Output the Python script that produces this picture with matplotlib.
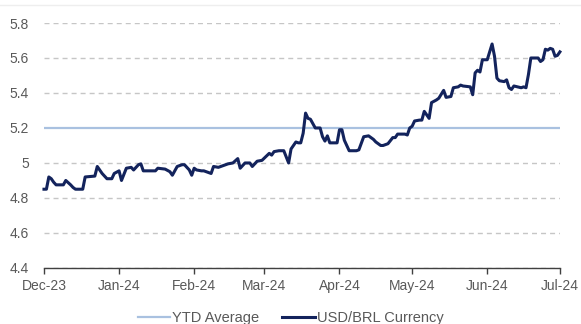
import matplotlib
matplotlib.use("Agg")
import matplotlib.pyplot as plt
import matplotlib.dates as mdates
import pandas as pd

plt.rcParams['font.family'] = ['Liberation Sans', 'DejaVu Sans']

# USD/BRL closing rate, Dec-23 to Jul-24
dates = [
    "2023-12-01", "2023-12-02", "2023-12-03", "2023-12-04", "2023-12-05", "2023-12-06",
    "2023-12-09", "2023-12-10", "2023-12-12", "2023-12-13", "2023-12-14", "2023-12-17",
    "2023-12-18", "2023-12-22", "2023-12-23", "2023-12-25", "2023-12-27", "2023-12-29",
    "2023-12-30",
    "2024-01-01", "2024-01-02", "2024-01-04", "2024-01-06", "2024-01-07", "2024-01-09",
    "2024-01-10", "2024-01-11", "2024-01-16", "2024-01-17", "2024-01-20", "2024-01-22",
    "2024-01-23", "2024-01-25", "2024-01-27", "2024-01-28", "2024-01-30", "2024-01-31",
    "2024-02-01", "2024-02-02", "2024-02-04", "2024-02-05", "2024-02-06", "2024-02-08",
    "2024-02-09", "2024-02-11", "2024-02-13", "2024-02-15", "2024-02-17", "2024-02-19",
    "2024-02-20", "2024-02-22", "2024-02-24", "2024-02-25", "2024-02-26", "2024-02-27",
    "2024-02-29",
    "2024-03-03", "2024-03-04", "2024-03-05", "2024-03-07", "2024-03-09", "2024-03-11",
    "2024-03-12", "2024-03-13", "2024-03-14", "2024-03-15", "2024-03-16", "2024-03-17",
    "2024-03-18", "2024-03-19", "2024-03-20", "2024-03-22", "2024-03-24", "2024-03-25",
    "2024-03-26", "2024-03-27", "2024-03-28", "2024-03-31",
    "2024-04-01", "2024-04-02", "2024-04-03", "2024-04-05", "2024-04-08", "2024-04-09",
    "2024-04-11", "2024-04-13", "2024-04-15", "2024-04-16", "2024-04-18", "2024-04-19",
    "2024-04-21", "2024-04-23", "2024-04-24", "2024-04-25", "2024-04-28", "2024-04-29",
    "2024-04-30",
    "2024-05-01", "2024-05-02", "2024-05-04", "2024-05-05", "2024-05-06", "2024-05-08",
    "2024-05-09", "2024-05-11", "2024-05-12", "2024-05-14", "2024-05-15", "2024-05-17",
    "2024-05-18", "2024-05-20", "2024-05-21", "2024-05-22", "2024-05-25", "2024-05-26",
    "2024-05-27", "2024-05-28", "2024-05-29", "2024-05-30",
    "2024-06-01", "2024-06-03", "2024-06-04", "2024-06-05", "2024-06-06", "2024-06-08",
    "2024-06-09", "2024-06-10", "2024-06-11", "2024-06-12", "2024-06-15", "2024-06-16",
    "2024-06-17", "2024-06-18", "2024-06-19", "2024-06-22", "2024-06-23", "2024-06-24",
    "2024-06-25", "2024-06-26", "2024-06-27", "2024-06-28", "2024-06-29", "2024-06-30",
    "2024-07-01",
]
usd_brl = [
    4.85, 4.85, 4.92, 4.91, 4.89, 4.875,
    4.875, 4.90, 4.875, 4.86, 4.85, 4.85,
    4.92, 4.925, 4.98, 4.94, 4.91, 4.91,
    4.94,
    4.955, 4.90, 4.97, 4.975, 4.96, 4.99,
    4.995, 4.955, 4.955, 4.97, 4.965, 4.95,
    4.93, 4.98, 4.99, 4.99, 4.96, 4.93,
    4.97, 4.96, 4.955, 4.955, 4.95, 4.94,
    4.98, 4.975, 4.985, 4.995, 5.0, 5.025,
    4.97, 5.0, 5.0, 4.98, 4.995, 5.01,
    5.015,
    5.055, 5.045, 5.065, 5.07, 5.07, 5.0,
    5.08, 5.10, 5.12, 5.115, 5.115, 5.17,
    5.285, 5.255, 5.25, 5.20, 5.20, 5.15,
    5.125, 5.155, 5.115, 5.115,
    5.19, 5.19, 5.13, 5.07, 5.07, 5.075,
    5.15, 5.155, 5.135, 5.12, 5.10, 5.10,
    5.11, 5.145, 5.145, 5.165, 5.165, 5.16,
    5.20,
    5.21, 5.24, 5.245, 5.245, 5.295, 5.255,
    5.345, 5.36, 5.37, 5.415, 5.375, 5.38,
    5.43, 5.435, 5.445, 5.44, 5.435, 5.39,
    5.515, 5.53, 5.52, 5.59,
    5.59, 5.68, 5.61, 5.485, 5.47, 5.465,
    5.475, 5.43, 5.42, 5.44, 5.43, 5.435,
    5.43, 5.505, 5.60, 5.60, 5.58, 5.59,
    5.65, 5.645, 5.655, 5.65, 5.61, 5.615,
    5.635,
]
ytd_average = 5.2
y_ticks = [4.4, 4.6, 4.8, 5.0, 5.2, 5.4, 5.6, 5.8]
y_labels = ["4.4", "4.6", "4.8", "5", "5.2", "5.4", "5.6", "5.8"]

x = pd.to_datetime(dates)
start, end = pd.Timestamp("2023-12-01"), pd.Timestamp("2024-07-01")

fig = plt.figure(figsize=(5.81, 3.24), dpi=100)
ax = fig.add_axes([0.0757, 0.173, 0.888, 0.756])

ax.set_ylim(4.4, 5.8)
ax.set_xlim(start, end)
ax.set_yticks(y_ticks)
ax.set_yticklabels(y_labels)
for t in y_ticks:
    if t != ytd_average:
        ax.axhline(t, color='#c6c6c6', lw=1.0, ls=(0, (3.6, 2.9)), zorder=1)

ax.plot([start, end], [ytd_average, ytd_average], color='#a9c1e0', lw=1.6,
        label='YTD Average', zorder=2)
ax.plot(x, usd_brl, color='#13235c', lw=2.2, label='USD/BRL Currency',
        zorder=3, clip_on=False, solid_joinstyle='round')

ax.xaxis.set_major_locator(mdates.MonthLocator())
ax.xaxis.set_major_formatter(mdates.DateFormatter('%b-%y'))

for side in ['top', 'right', 'left']:
    ax.spines[side].set_visible(False)
ax.spines['bottom'].set_color('#404040')
ax.spines['bottom'].set_linewidth(1.0)
ax.tick_params(axis='x', length=4, width=1, color='#404040', pad=4,
               labelsize=10, labelcolor='#595959')
ax.tick_params(axis='y', length=0, pad=11, labelsize=10, labelcolor='#595959')

fig.legend(loc='lower center', bbox_to_anchor=(0.5, -0.045), ncol=2, frameon=False,
           fontsize=10.5, handlelength=2.25, handletextpad=0.1, columnspacing=1.6,
           labelcolor='#595959')

# faint frame edge along the top
fig.add_artist(plt.Line2D([0, 1], [0.985, 0.985], color='#eeeeee', lw=1))

fig.savefig('out.png', dpi=100)
